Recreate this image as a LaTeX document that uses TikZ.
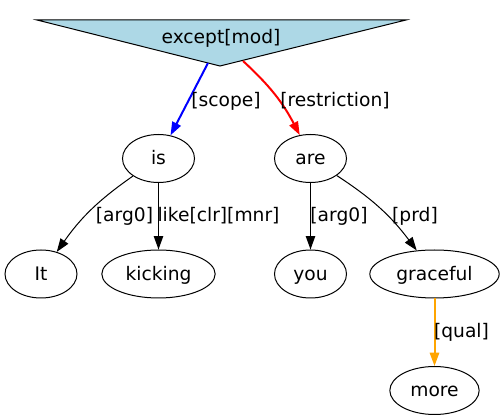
\documentclass[tikz,border=0pt]{standalone}
\usepackage{fontspec}
\setmainfont{DejaVu Sans}
\usetikzlibrary{shapes.geometric,arrows.meta}
\definecolor{lightblue}{HTML}{ADD8E6}
\definecolor{gvorange}{HTML}{FFA500}
\begin{document}
\begin{tikzpicture}[x=0.75pt,y=-0.75pt,
        every node/.style={font=\fontsize{14pt}{16pt}\selectfont,text height=11pt,text depth=1.6pt,inner sep=0pt},
        word/.style={draw,ellipse,line width=0.75pt,minimum width=54pt,minimum height=36pt},
        rel/.style={line width=0.75pt,-{Triangle[length=10pt,width=7pt]}},
        hot/.style={rel,line width=1.5pt}]
                \useasboundingbox (0,0) rectangle (504,420);
                \draw[fill=lightblue,line width=0.75pt] (37,20) -- (406,20) -- (220,66) -- cycle;
                \node (except) at (221,37) {except[mod]};
                \coordinate (sc) at (208,63);
                \coordinate (rs) at (243,61);
                \node[word] (is) at (158.5,158.5) {is};
                \node[word] (are) at (310.5,158.5) {are};
                \node[word] (it) at (41,274) {It};
                \node[word,minimum width=85pt] (kicking) at (158.5,274) {kicking};
                \node[word] (you) at (310.5,274) {you};
                \node[word,minimum width=97pt] (graceful) at (434.5,274) {graceful};
                \node[word,minimum width=67pt] (more) at (434.5,390.5) {more};
                \draw[hot,blue] (sc) -- (is);
                \draw[hot,red] (rs) to[bend left=10] (are);
                \draw[rel] (is) to[bend right=10] (it);
                \draw[rel] (is) -- (kicking);
                \draw[rel] (are) -- (you);
                \draw[rel] (are) to[bend left=10] (graceful);
                \draw[hot,gvorange] (graceful) -- (more);
                \node (l-scope) at (226,100) {[scope]};
                \node (l-restr) at (335,100) {[restriction]};
                \node (l-arg0a) at (124.5,215.5) {[arg0]};
                \node (l-like) at (218.5,215.5) {like[clr][mnr]};
                \node (l-arg0b) at (339,215.5) {[arg0]};
                \node (l-prd) at (415,215.5) {[prd]};
                \node (l-qual) at (461.5,331.5) {[qual]};
            \end{tikzpicture}
\end{document}
